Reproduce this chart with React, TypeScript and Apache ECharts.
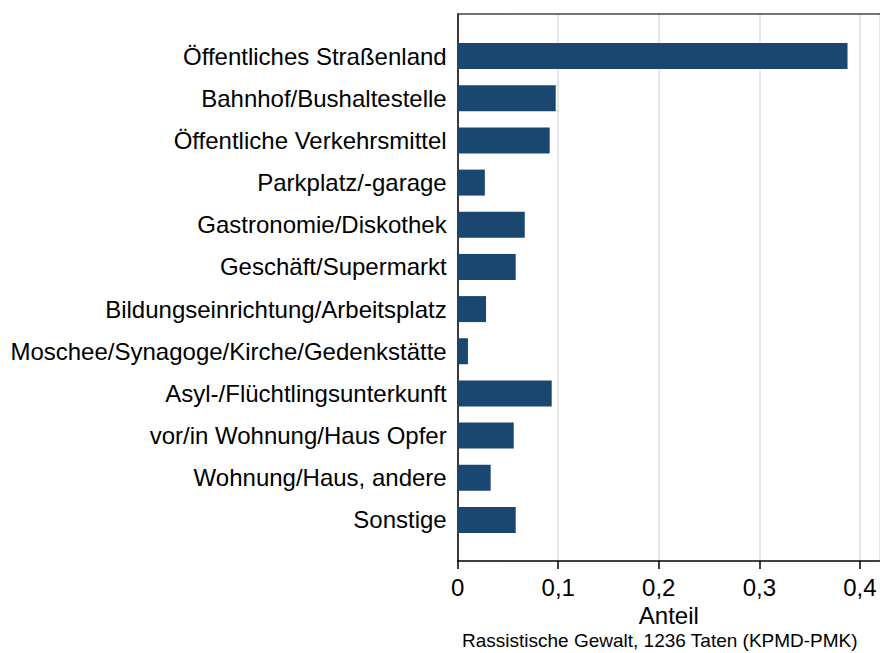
import React, { useEffect, useRef } from "react";
import * as echarts from "echarts";

const categories = [
  "Öffentliches Straßenland",
  "Bahnhof/Bushaltestelle",
  "Öffentliche Verkehrsmittel",
  "Parkplatz/-garage",
  "Gastronomie/Diskothek",
  "Geschäft/Supermarkt",
  "Bildungseinrichtung/Arbeitsplatz",
  "Moschee/Synagoge/Kirche/Gedenkstätte",
  "Asyl-/Flüchtlingsunterkunft",
  "vor/in Wohnung/Haus Opfer",
  "Wohnung/Haus, andere",
  "Sonstige",
];
const shares = [0.3877, 0.0975, 0.0915, 0.027, 0.0667, 0.0577, 0.0282, 0.0102, 0.0935, 0.0557, 0.0328, 0.0577];
const xTicks = [0, 0.1, 0.2, 0.3, 0.4];
const xMax = 0.42;
const axisTitle = "Anteil";
const caption = "Rassistische Gewalt, 1236 Taten (KPMD-PMK)";

const FONT = "'Liberation Sans', Arial, Helvetica, sans-serif";
const NAVY = "#1a476f";

export default function App() {
  const ref = useRef<HTMLDivElement>(null);
  useEffect(() => {
    if (!ref.current) return;
    const chart = echarts.init(ref.current, undefined, { renderer: "svg" });
    const fmt = (v: number) => {
      const hit = xTicks.find((t) => Math.abs(t - v) < 1e-9);
      if (hit === undefined) return "";
      return hit === 0 ? "0" : String(hit).replace(".", ",");
    };
    chart.setOption({
      animation: false,
      backgroundColor: "#ffffff",
      textStyle: { fontFamily: FONT },
      grid: [
        { left: 457.7, right: 0, top: 14, height: 547 },
        { left: 457.7, right: 0, top: 35, height: 506 },
      ],
      xAxis: [
        {
          type: "value",
          gridIndex: 0,
          min: 0,
          max: xMax,
          interval: 0.1,
          position: "bottom",
          axisLine: { show: true, lineStyle: { color: "#000", width: 1.5 } },
          axisTick: { show: true, length: 8, lineStyle: { color: "#000", width: 1.5 } },
          axisLabel: {
            show: true,
            formatter: fmt,
            fontSize: 24,
            color: "#000",
            fontFamily: FONT,
            margin: 14,
            showMaxLabel: false,
          },
          splitLine: { show: true, lineStyle: { color: "#dedede", width: 1.5 } },
          name: axisTitle,
          nameLocation: "middle",
          nameGap: 36,
          nameTextStyle: { fontSize: 24, color: "#000", fontFamily: FONT, verticalAlign: "top" },
        },
        {
          type: "value",
          gridIndex: 0,
          min: 0,
          max: xMax,
          position: "top",
          axisLine: { show: true, lineStyle: { color: "#444", width: 1.5 } },
          axisTick: { show: false },
          axisLabel: { show: false },
          splitLine: { show: false },
        },
        {
          type: "value",
          gridIndex: 1,
          min: 0,
          max: xMax,
          show: false,
        },
      ],
      yAxis: [
        {
          type: "value",
          gridIndex: 0,
          min: 0,
          max: 1,
          axisLine: { show: true, lineStyle: { color: "#000", width: 1.5 } },
          axisTick: { show: false },
          axisLabel: { show: false },
          splitLine: { show: false },
        },
        {
          type: "category",
          gridIndex: 1,
          inverse: true,
          data: categories,
          axisLine: { show: false },
          axisTick: { show: false },
          axisLabel: { fontSize: 24, color: "#000", fontFamily: FONT, margin: 11 },
          splitLine: { show: false },
        },
      ],
      series: [
        {
          type: "bar",
          xAxisIndex: 2,
          yAxisIndex: 1,
          data: shares,
          barWidth: 26,
          itemStyle: { color: NAVY },
        },
      ],
      graphic: [
        {
          type: "text",
          left: 462,
          top: 631,
          style: { text: caption, fontSize: 19, fill: "#000", fontFamily: FONT },
        },
      ],
    });
    return () => chart.dispose();
  }, []);
  return (
    <div
      ref={ref}
      style={{ position: "fixed", left: 0, top: 0, width: 880, height: 653 }}
    />
  );
}
